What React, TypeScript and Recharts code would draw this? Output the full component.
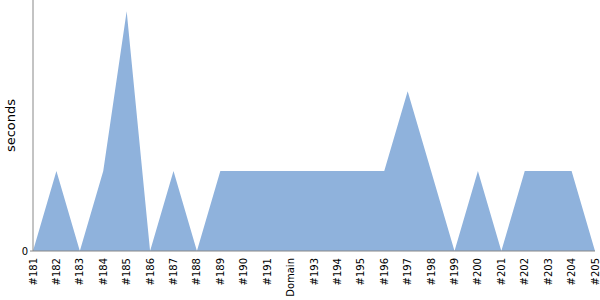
import React from 'react';
import { AreaChart, Area, XAxis, YAxis } from 'recharts';

const categories = ['#181','#182','#183','#184','#185','#186','#187','#188','#189','#190','#191','Domain','#193','#194','#195','#196','#197','#198','#199','#200','#201','#202','#203','#204','#205'];
const seconds = [0,1,0,1,3,0,1,0,1,1,1,1,1,1,1,1,2,1,0,1,0,1,1,1,0];
const yTicks = [0];

const data = categories.map((c, i) => ({ name: c, seconds: seconds[i] }));

const FONT = "'DejaVu Sans', Verdana, sans-serif";

const XTick = (props: any) => {
  const { x, payload } = props;
  const ty = 258;
  return (
    <text
      x={x}
      y={ty}
      transform={`rotate(-90 ${x} ${ty})`}
      textAnchor="end"
      dy="0.35em"
      style={{ fontFamily: FONT, fontSize: 10 }}
      fill="#000"
    >
      {payload.value}
    </text>
  );
};

const YTick = (props: any) => {
  const { x, y, payload } = props;
  return (
    <text x={x} y={y} textAnchor="end" dy="0.35em" style={{ fontFamily: FONT, fontSize: 10 }} fill="#000">
      {payload.value}
    </text>
  );
};

const YLabel = (props: any) => {
  const vb = props.viewBox || { x: 0, y: 0, width: 33, height: 251 };
  const cx = vb.x + 10.5;
  const cy = vb.y + vb.height / 2;
  return (
    <text
      x={cx}
      y={cy}
      transform={`rotate(-90 ${cx} ${cy})`}
      textAnchor="middle"
      dy="0.35em"
      style={{ fontFamily: FONT, fontSize: 13 }}
      fill="#000"
    >
      seconds
    </text>
  );
};

export default function App() {
  return (
    <div style={{ position: 'absolute', left: 0, top: 0, width: 600, height: 300, fontFamily: FONT }}>
      <AreaChart width={600} height={300} data={data} margin={{ top: 0, right: 5, bottom: 0, left: 0 }}>
        <XAxis
          dataKey="name"
          interval={0}
          height={49}
          tick={<XTick />}
          tickLine={false}
          axisLine={{ stroke: '#888' }}
        />
        <YAxis
          width={33}
          domain={[0, 3.14]}
          ticks={yTicks}
          tick={<YTick />}
          tickSize={3}
          tickMargin={2}
          tickLine={{ stroke: '#888' }}
          axisLine={{ stroke: '#888' }}
          label={<YLabel />}
        />
        <Area
          type="linear"
          dataKey="seconds"
          stroke="none"
          fill="#8fb2dc"
          fillOpacity={1}
          isAnimationActive={false}
        />
      </AreaChart>
    </div>
  );
}
